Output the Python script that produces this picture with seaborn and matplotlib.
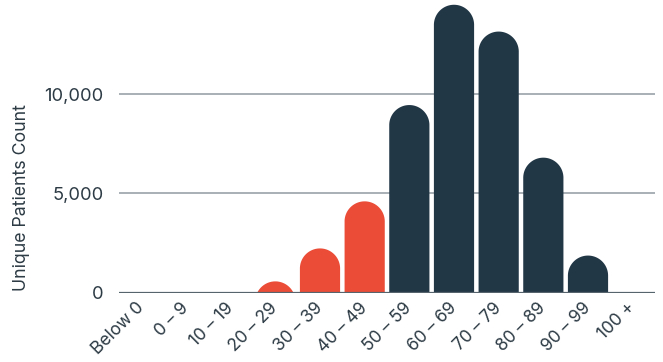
import numpy as np
import pandas as pd
import seaborn as sns
import matplotlib
matplotlib.use("Agg")
import matplotlib.pyplot as plt
from matplotlib.path import Path
from matplotlib.patches import PathPatch

# Patients by age group
age_groups = ["Below 0", "0 – 9", "10 – 19", "20 – 29", "30 – 39", "40 – 49",
              "50 – 59", "60 – 69", "70 – 79", "80 – 89", "90 – 99", "100 +"]
patient_counts = [0, 0, 0, 570, 2230, 4600, 9450, 14500, 13150, 6800, 1870, 0]
onset = ["under 50"] * 6 + ["50 and over"] * 6
onset_colors = {"under 50": "#EB4C37", "50 and over": "#223746"}
y_ticks = [0, 5000, 10000]
y_tick_labels = ["0", "5,000", "10,000"]

TEXT = "#2D3B45"

sns.set_theme(style="white")
plt.rcParams["font.family"] = ["Inter", "DejaVu Sans"]

W, H = 663, 362
fig = plt.figure(figsize=(W / 100, H / 100), dpi=100)
ax = fig.add_axes([119 / W, (H - 292.7) / H, (655 - 119) / W, 292.7 / H])

df = pd.DataFrame({"age": age_groups, "count": patient_counts, "onset": onset})
sns.barplot(data=df, x="age", y="count", hue="onset", palette=onset_colors,
            width=0.9, dodge=False, legend=False, saturation=1, ax=ax)

ax.set_xlim(-0.5, len(age_groups) - 0.5)
ax.set_ylim(0, 14740)

# Replace the flat-topped bars with bars that have a semicircular cap
fig.canvas.draw()
px_per_x = ax.transData.transform((1, 0))[0] - ax.transData.transform((0, 0))[0]
px_per_y = ax.transData.transform((0, 1000))[1] - ax.transData.transform((0, 0))[1]
px_per_y /= 1000.0
for bar in list(ax.patches):
    x0, w, h = bar.get_x(), bar.get_width(), bar.get_height()
    color = bar.get_facecolor()
    bar.remove()
    if h <= 0:
        continue
    rx = w / 2
    ry = rx * px_per_x / px_per_y
    cx, cy = x0 + rx, h - ry
    bottom = min(0, cy) - 10
    theta = np.linspace(np.pi, 0, 80)
    verts = [(x0, bottom), (x0, cy)]
    verts += list(zip(cx + rx * np.cos(theta), cy + ry * np.sin(theta)))
    verts += [(x0 + w, bottom), (x0, bottom)]
    codes = [Path.MOVETO] + [Path.LINETO] * (len(verts) - 2) + [Path.CLOSEPOLY]
    ax.add_patch(PathPatch(Path(verts, codes), facecolor=color,
                           edgecolor="none", zorder=2))

# Axes styling
for s in ax.spines.values():
    s.set_visible(False)
ax.set_axisbelow(True)
ax.yaxis.grid(True, color="#A9B0B5", linewidth=1.4)
ax.xaxis.grid(False)
ax.axhline(0, color="#56646D", linewidth=1.6, zorder=3)

ax.set_yticks(y_ticks)
ax.set_yticklabels(y_tick_labels)
ax.tick_params(axis="y", length=0, pad=11, labelsize=13.2, labelcolor=TEXT)
ax.tick_params(axis="x", length=0, pad=9, labelsize=12.5, labelcolor=TEXT)
for lbl in ax.get_xticklabels():
    lbl.set_rotation(45)
    lbl.set_ha("right")
    lbl.set_va("center")
    lbl.set_rotation_mode("anchor")

ax.set_xlabel("")
ax.set_ylabel("Unique Patients Count", fontsize=12.8, color=TEXT)
ax.yaxis.set_label_coords(-0.166, 0.324)

fig.savefig("out.png", dpi=100)
